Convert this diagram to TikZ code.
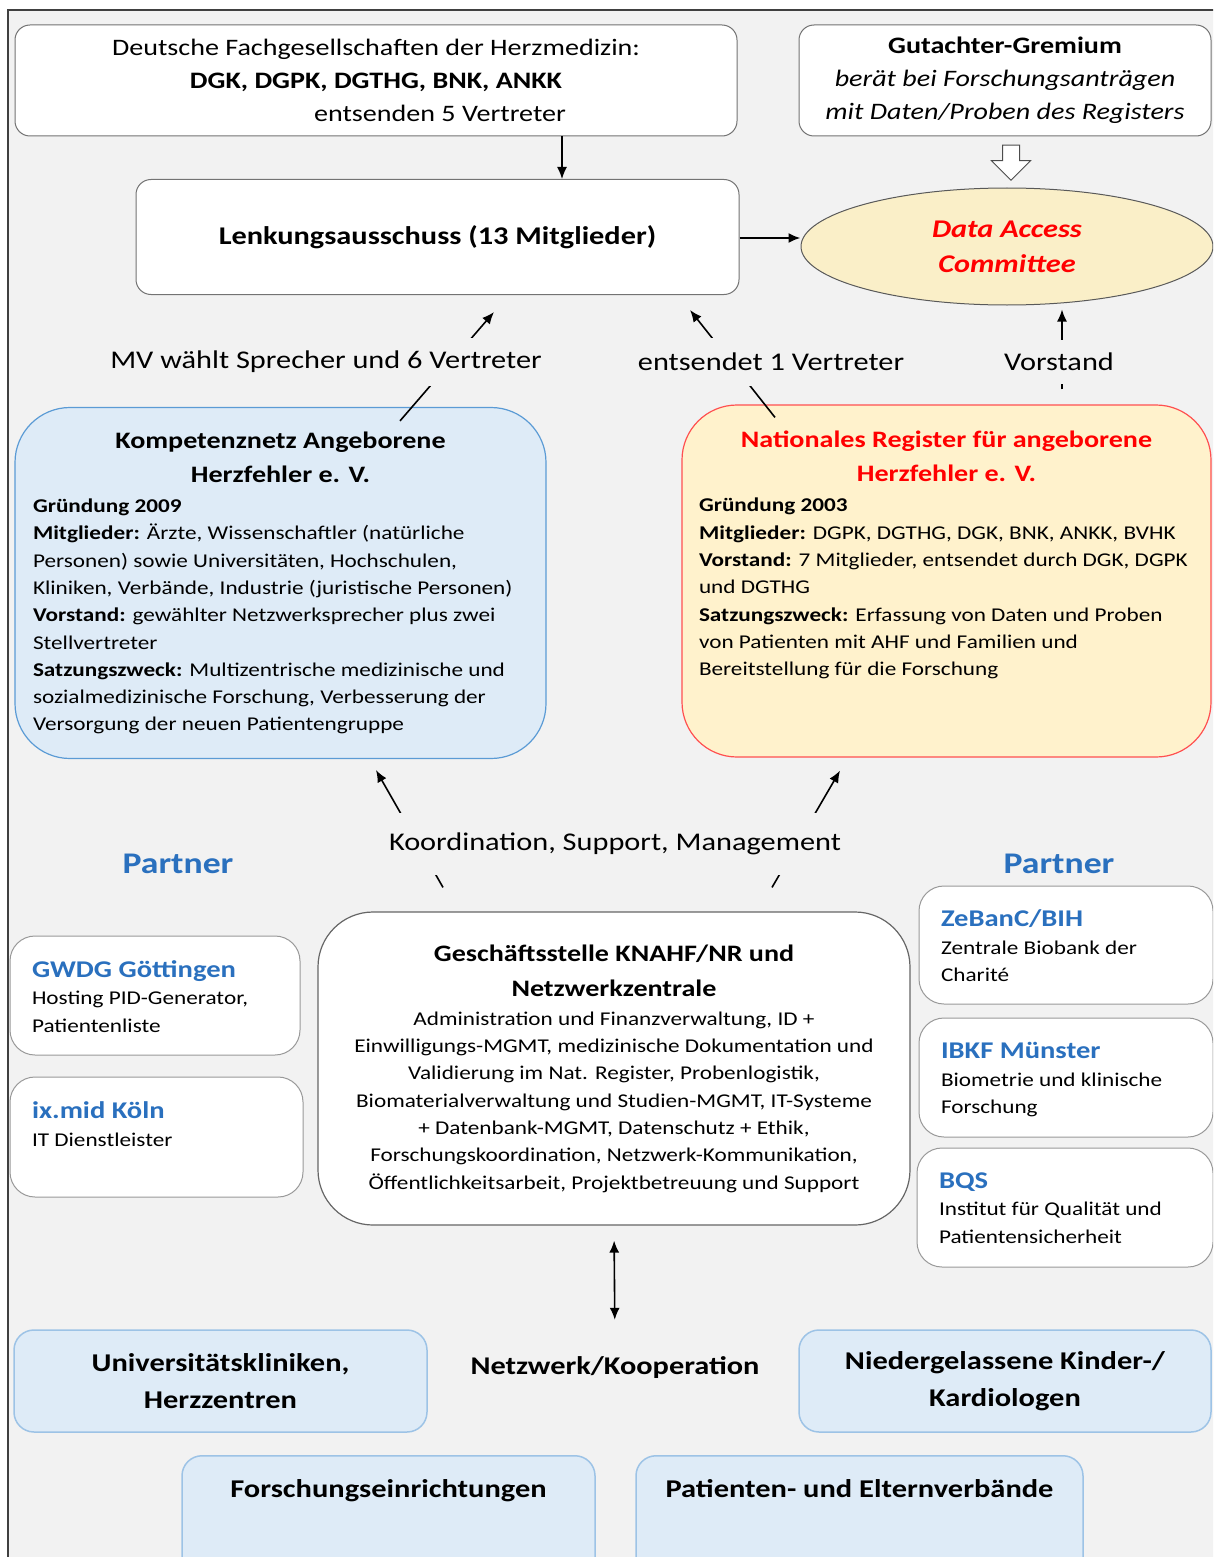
\documentclass[tikz,border=0pt]{standalone}
\usepackage{fontspec}
\setmainfont{Carlito}[FakeStretch=1.19]
\usepackage{tikz}
\usetikzlibrary{shapes.geometric, shapes.arrows, positioning}
\usetikzlibrary{arrows.meta}
\tikzset{>={Latex[width=10pt,length=12pt]}}

\definecolor{bggray}{HTML}{F2F2F2}
\definecolor{hellblau}{HTML}{DEEBF7}
\definecolor{knrand}{HTML}{5B9BD5}
\definecolor{netzrand}{HTML}{9DC3E6}
\definecolor{nrgelb}{HTML}{FFF2CC}
\definecolor{nrrand}{HTML}{FF5050}
\definecolor{dacgelb}{HTML}{FAEFC8}
\definecolor{rot}{HTML}{FF0000}
\definecolor{partnerblau}{HTML}{2A70BE}

\begin{document}
\begin{tikzpicture}[x=1pt, y=-1pt, whitebox/.style={rectangle, rounded corners=15pt, draw=black!55, fill=white, line width=1pt, inner sep=0pt}, bigbox/.style={rectangle, rounded corners=55pt, line width=1.2pt, inner sep=0pt}, partnerbox/.style={rectangle, rounded corners=25pt, draw=black!40, fill=white, line width=1pt, inner sep=0pt, minimum width=292pt, minimum height=119pt}, groupbox/.style={rectangle, rounded corners=20pt, draw=netzrand, fill=hellblau, line width=1.5pt, inner sep=0pt, minimum height=102pt, align=center, font=\fontsize{25.6}{37}\selectfont\bfseries}, flowtext/.style={fill=bggray, inner sep=0pt, font=\fontsize{25.5}{30}\selectfont}, pfeil/.style={->, line width=1.6pt}]

    \useasboundingbox (0,0) rectangle (1213,1557);
    \clip (0,0) rectangle (1213,1557);
    \fill[white] (0,0) rectangle (1213,1557);
    \filldraw[fill=bggray, draw=black!75, line width=1.5pt] (8,10) rectangle (1240,1590);

    %Nodes
    \node[whitebox, minimum width=722pt, minimum height=111pt, align=center, font=\fontsize{23.6}{33}\selectfont](fach) at (376,80.5){Deutsche Fachgesellschaften der Herzmedizin:\\\textbf{DGK, DGPK, DGTHG, BNK, ANKK}\\\hspace*{128pt}entsenden 5 Vertreter};
    \node[whitebox, minimum width=412pt, minimum height=111pt, align=center, font=\fontsize{23.6}{33}\selectfont](gutachter) at (1005,80.5){\textbf{Gutachter-Gremium}\\\textit{berät bei Forschungsanträgen}\\\textit{mit Daten/Proben des Registers}};
    \node[whitebox, minimum width=603pt, minimum height=115pt, font=\fontsize{25.5}{30}\selectfont\bfseries](lenkung) at (437.5,237){Lenkungsausschuss (13 Mitglieder)};
    \node[ellipse, draw=black!65, fill=dacgelb, line width=1pt, minimum width=412pt, minimum height=117pt, inner sep=0pt, align=center, text=rot, font=\fontsize{25.5}{35}\selectfont\bfseries\itshape](dac) at (1007,246.5){Data Access\\Committee};
    \node[single arrow, rotate=-90, draw=black!70, fill=white, line width=1pt, minimum height=35pt, minimum width=38pt, inner xsep=0pt, inner ysep=8pt, single arrow head extend=11pt, single arrow head indent=0pt](gutpfeil) at (1011,158.5){};

    \node[bigbox, draw=knrand, fill=hellblau, minimum width=531pt, minimum height=351pt](kn) at (280.5,583){\parbox{495pt}{\centering\fontsize{23.6}{34}\selectfont\bfseries Kompetenznetz Angeborene\\Herzfehler e. V.\par
    \raggedright\fontsize{19.5}{27.3}\selectfont\mdseries\vspace{3pt}\textbf{Gründung 2009}\\\textbf{Mitglieder:} Ärzte, Wissenschaftler (natürliche\\Personen) sowie Universitäten, Hochschulen,\\Kliniken, Verbände, Industrie (juristische Personen)\\\textbf{Vorstand:} gewählter Netzwerksprecher plus zwei\\Stellvertreter\\\textbf{Satzungszweck:} Multizentrische medizinische und\\sozialmedizinische Forschung, Verbesserung der\\Versorgung der neuen Patientengruppe}};
    \node[bigbox, draw=nrrand, fill=nrgelb, minimum width=529pt, minimum height=352pt](nr) at (946.5,581){\parbox[c][300pt][t]{495pt}{\centering\fontsize{23.6}{34}\selectfont\bfseries\color{rot}Nationales Register für angeborene\\Herzfehler e. V.\par
    \raggedright\fontsize{19.5}{27.3}\selectfont\mdseries\color{black}\vspace{3pt}\textbf{Gründung 2003}\\\textbf{Mitglieder:} DGPK, DGTHG, DGK, BNK, ANKK, BVHK\\\textbf{Vorstand:} 7 Mitglieder, entsendet durch DGK, DGPK\\und DGTHG\\\textbf{Satzungszweck:} Erfassung von Daten und Proben\\von Patienten mit AHF und Familien und\\Bereitstellung für die Forschung}};

    \node[bigbox, draw=black!60, fill=white, minimum width=592pt, minimum height=313pt](gs) at (614,1068.5){\parbox{570pt}{\centering\fontsize{23.6}{35}\selectfont\bfseries Geschäftsstelle KNAHF/NR und\\Netzwerkzentrale\par
    \fontsize{19.5}{27.3}\selectfont\mdseries\vspace{2pt}Administration und Finanzverwaltung, ID +\\Einwilligungs-MGMT, medizinische Dokumentation und\\Validierung im Nat. Register, Probenlogistik,\\Biomaterialverwaltung und Studien-MGMT, IT-Systeme\\+ Datenbank-MGMT, Datenschutz + Ethik,\\Forschungskoordination, Netzwerk-Kommunikation,\\Öffentlichkeitsarbeit, Projektbetreuung und Support}};

    \node[partnerbox, minimum width=290pt](gwdg) at (155,995.5){\parbox[c][70pt][t]{246pt}{{\color{partnerblau}\fontsize{24}{31}\selectfont\bfseries GWDG Göttingen\par}\fontsize{19.5}{27.5}\selectfont Hosting PID-Generator,\\Patientenliste}};
    \node[partnerbox, minimum width=293pt, minimum height=120pt](ixmid) at (156.5,1137){\parbox[c][70pt][t]{249pt}{{\color{partnerblau}\fontsize{24}{31}\selectfont\bfseries ix.mid Köln\par}\fontsize{19.5}{27.5}\selectfont IT Dienstleister}};
    \node[partnerbox, minimum width=294pt, minimum height=118pt](zebanc) at (1066,945){\parbox[c][70pt][t]{250pt}{{\color{partnerblau}\fontsize{24}{31}\selectfont\bfseries ZeBanC/BIH\par}\fontsize{19.5}{27.5}\selectfont Zentrale Biobank der\\Charité}};
    \node[partnerbox, minimum width=294pt](ibkf) at (1066,1077.5){\parbox[c][70pt][t]{250pt}{{\color{partnerblau}\fontsize{24}{31}\selectfont\bfseries IBKF Münster\par}\fontsize{19.5}{27.5}\selectfont Biometrie und klinische\\Forschung}};
    \node[partnerbox, minimum width=296pt](bqs) at (1065,1207.5){\parbox[c][70pt][t]{252pt}{{\color{partnerblau}\fontsize{24}{31}\selectfont\bfseries BQS\par}\fontsize{19.5}{27.5}\selectfont Institut für Qualität und\\Patientensicherheit}};

    \node[groupbox, minimum width=413pt](uni) at (220.5,1381){Universitätskliniken,\\Herzzentren};
    \node[groupbox, minimum width=412pt](nied) at (1005,1381){Niedergelassene Kinder-/\\Kardiologen};
    \node[groupbox, minimum width=413pt, minimum height=135pt, anchor=north](forsch) at (388.5,1455){\parbox[c][88pt][t]{380pt}{\centering Forschungseinrichtungen}};
    \node[groupbox, minimum width=447pt, minimum height=135pt, anchor=north](patient) at (859.5,1455){\parbox[c][88pt][t]{420pt}{\centering Patienten- und Elternverbände}};
    \node[font=\fontsize{25.5}{30}\selectfont\bfseries, inner sep=0pt, minimum height=40pt](netz) at (615,1368){Netzwerk/Kooperation};

    \node[text=partnerblau, font=\fontsize{30}{36}\selectfont\bfseries](partnerlinks) at (178,864){Partner};
    \node[text=partnerblau, font=\fontsize{30}{36}\selectfont\bfseries](partnerrechts) at (1059,864){Partner};

    %Lines
    \draw[->, line width=1.4pt] ([xshift=186pt]fach.south) -- ([xshift=124.5pt]lenkung.north);
    \draw[->, line width=2pt] ([yshift=-1pt]lenkung.east) -- ([yshift=-1pt]lenkung.east -| dac.west);
    \draw[pfeil] ([xshift=119.5pt,yshift=-14pt]kn.north) -- ([xshift=56.5pt,yshift=-17pt]lenkung.south);
    \draw[pfeil] ([xshift=-171.5pt,yshift=-13pt]nr.north) -- ([xshift=252.5pt,yshift=-15pt]lenkung.south);
    \draw[pfeil] ([xshift=115.5pt,yshift=15pt]nr.north) -- ([xshift=55pt,yshift=-4pt]dac.south);
    \draw[pfeil] ([xshift=-171pt,yshift=24pt]gs.north) -- ([xshift=95.5pt,yshift=-11pt]kn.south);
    \draw[pfeil] ([xshift=158pt,yshift=24pt]gs.north) -- ([xshift=-106.5pt,yshift=-13pt]nr.south);
    \draw[<->, line width=1.6pt, shorten <=15pt, shorten >=28pt] (gs.south) -- (netz.north);

    %Labels
    \node[flowtext, minimum height=48pt](mv) at (326,362){MV wählt Sprecher und 6 Vertreter};
    \node[flowtext, minimum height=48pt](entsendet) at (771,362){entsendet 1 Vertreter};
    \node[flowtext, minimum height=44pt](vorstand) at (1059,362){Vorstand};
    \node[flowtext, minimum height=62pt](koord) at (615,844){Koordination, Support, Management};

\end{tikzpicture}
\end{document}
